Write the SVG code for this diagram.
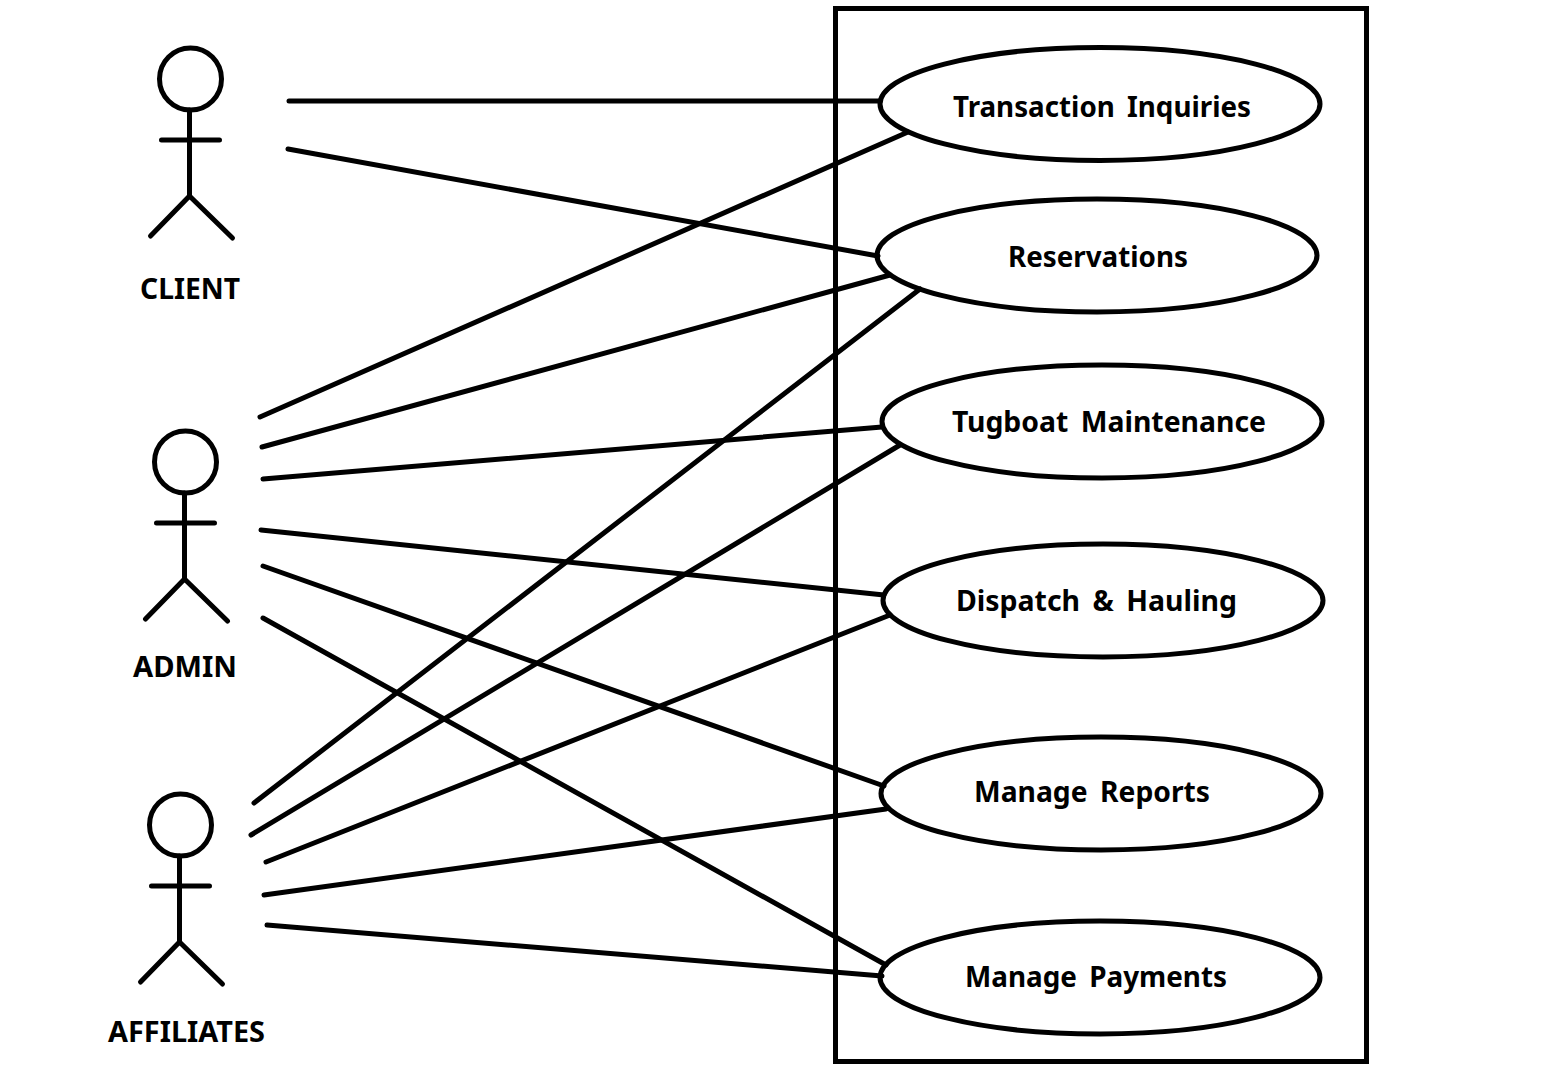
<svg xmlns="http://www.w3.org/2000/svg" width="1556" height="1082" viewBox="0 0 1556 1082">
<style>
.s{fill:none;stroke:#000;stroke-width:5}
.c{fill:none;stroke:#000;stroke-width:5;stroke-linecap:round}
text{font-family:"Noto Sans","Noto Sans CJK KR",sans-serif;font-weight:700;font-size:28px;word-spacing:5px;fill:#000;text-anchor:middle}
</style>
<defs>
<g id="actor"><circle class="s" cx="0" cy="0" r="31"/><path class="c" d="M-1 31V117M-29 61H29M-1 117L-40 157M-1 117L42 159"/></g>
</defs>
<rect width="1556" height="1082" fill="#fff"/>
<rect id="boundary" class="s" x="835.500" y="8.500" width="531" height="1053"/>
<g id="connectors" class="c">
<path d="M289 101H880"/>
<path d="M288 149L878 256"/>
<path d="M260 417L908 132"/>
<path d="M262 447L890 275"/>
<path d="M263 479L882 427"/>
<path d="M261 530L884 595"/>
<path d="M263 566L884 786"/>
<path d="M263 618L886 965"/>
<path d="M254 803L920 289"/>
<path d="M251 835L900 445"/>
<path d="M266 862L890 615"/>
<path d="M264 895L886 809"/>
<path d="M267 925L882 976"/>
</g>
<g id="actor-client"><use href="#actor" x="190.500" y="79"/><text x="190" y="299" textLength="100" lengthAdjust="spacingAndGlyphs">CLIENT</text></g>
<g id="actor-admin"><use href="#actor" x="185.500" y="462"/><text x="185" y="677" textLength="104" lengthAdjust="spacingAndGlyphs">ADMIN</text></g>
<g id="actor-affiliates"><use href="#actor" x="180.500" y="825"/><text x="186.500" y="1042" textLength="157" lengthAdjust="spacingAndGlyphs">AFFILIATES</text></g>
<g id="uc-transaction"><ellipse class="s" cx="1100" cy="104" rx="220" ry="56.500"/><text x="1102" y="117" textLength="298" lengthAdjust="spacingAndGlyphs">Transaction Inquiries</text></g>
<g id="uc-reservations"><ellipse class="s" cx="1097" cy="255.500" rx="220" ry="56.500"/><text x="1098" y="267" textLength="180" lengthAdjust="spacingAndGlyphs">Reservations</text></g>
<g id="uc-tugboat"><ellipse class="s" cx="1102" cy="421.500" rx="220" ry="56.500"/><text x="1109" y="432" textLength="314" lengthAdjust="spacingAndGlyphs">Tugboat Maintenance</text></g>
<g id="uc-dispatch"><ellipse class="s" cx="1103" cy="600.500" rx="220" ry="56.500"/><text x="1096.500" y="611" textLength="281" lengthAdjust="spacingAndGlyphs">Dispatch &amp; Hauling</text></g>
<g id="uc-reports"><ellipse class="s" cx="1101" cy="793.500" rx="220" ry="56.500"/><text x="1092" y="802" textLength="236" lengthAdjust="spacingAndGlyphs">Manage Reports</text></g>
<g id="uc-payments"><ellipse class="s" cx="1100" cy="977.500" rx="220" ry="56.500"/><text x="1096" y="987" textLength="262" lengthAdjust="spacingAndGlyphs">Manage Payments</text></g>
</svg>
